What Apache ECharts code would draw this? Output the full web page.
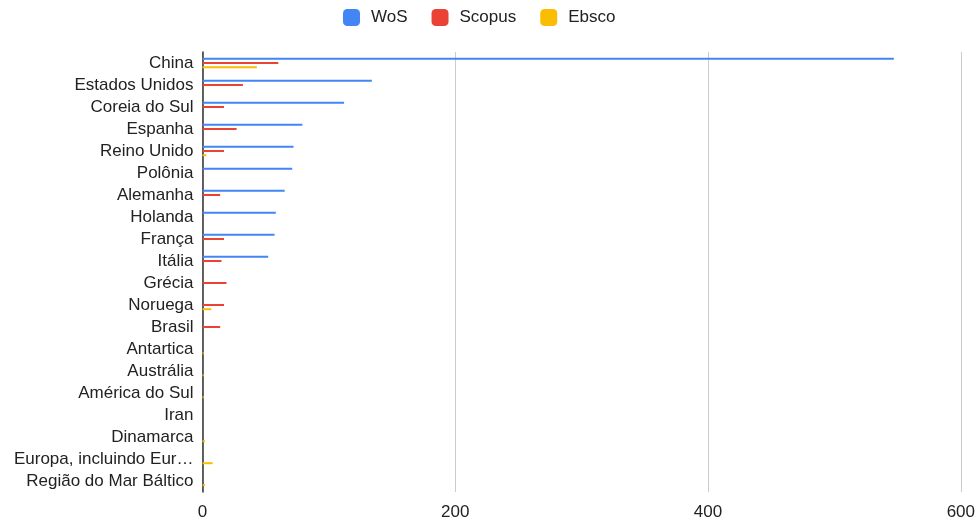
<!DOCTYPE html>
<html>
  <head>
    <meta charset="utf-8" />
    <script src="https://cdn.jsdelivr.net/npm/echarts@6.0.0/dist/echarts.min.js"></script>
    <style>
      html, body { margin: 0; padding: 0; background: #fff; }
    </style>
  </head>
  <body>
    <div id="main" style="width: 978px; height: 521px"></div>

    <script type="text/javascript">
      // categories, top to bottom
      const countries = [
        "China", "Estados Unidos", "Coreia do Sul", "Espanha", "Reino Unido",
        "Polônia", "Alemanha", "Holanda", "França", "Itália", "Grécia",
        "Noruega", "Brasil", "Antartica", "Austrália", "América do Sul",
        "Iran", "Dinamarca", "Europa, incluindo Eur…", "Região do Mar Báltico"
      ];
      const wos = [547, 134, 112, 79, 72, 71, 65, 58, 57, 52, 0, 0, 0, 0, 0, 0, 0, 0, 0, 0];
      const scopus = [60, 32, 17, 27, 17, 0, 14, 0, 17, 15, 19, 17, 14, 0, 0, 0, 0, 0, 0, 0];
      const ebsco = [43, 0, 0, 0, 3, 0, 0, 0, 0, 0, 0, 7, 0, 1, 1, 1, 0, 2, 8, 2];
      const xTicks = [0, 200, 400, 600];

      const fontFam = "'Liberation Sans', Arial, sans-serif";

      function barSeries(name, data, color) {
        return {
          name: name,
          type: "bar",
          data: data,
          barWidth: 2,
          barGap: "110%",
          itemStyle: { color: color },
        };
      }

      var option = {
        animation: false,
        legend: {
          data: ["WoS", "Scopus", "Ebsco"],
          top: 9,
          left: 343,
          padding: 0,
          itemWidth: 17,
          itemHeight: 17,
          itemGap: 24,
          icon: "roundRect",
          textStyle: { fontSize: 17, color: "#222", fontFamily: fontFam, padding: [0, 0, 0, 6] },
        },
        grid: { left: 202.5, right: 16, top: 52, height: 442, containLabel: false },
        xAxis: {
          type: "value",
          min: xTicks[0],
          max: xTicks[xTicks.length - 1],
          interval: 200,
          axisLine: { show: false },
          axisTick: { show: false },
          axisLabel: { fontSize: 17, color: "#222", margin: 12, fontFamily: fontFam },
          splitLine: { lineStyle: { color: "#ccc" } },
        },
        yAxis: {
          type: "category",
          data: countries,
          inverse: true,
          axisLine: { lineStyle: { color: "#333", width: 1.5 } },
          axisTick: { show: false },
          axisLabel: { interval: 0, fontSize: 17, color: "#222", margin: 9, fontFamily: fontFam },
        },
        series: [
          barSeries("WoS", wos, "#4285F4"),
          barSeries("Scopus", scopus, "#EA4335"),
          barSeries("Ebsco", ebsco, "#FBBC04"),
        ],
      };

      const myChart = echarts.init(document.getElementById("main"));
      myChart.setOption(option);
    </script>
  </body>
</html>
